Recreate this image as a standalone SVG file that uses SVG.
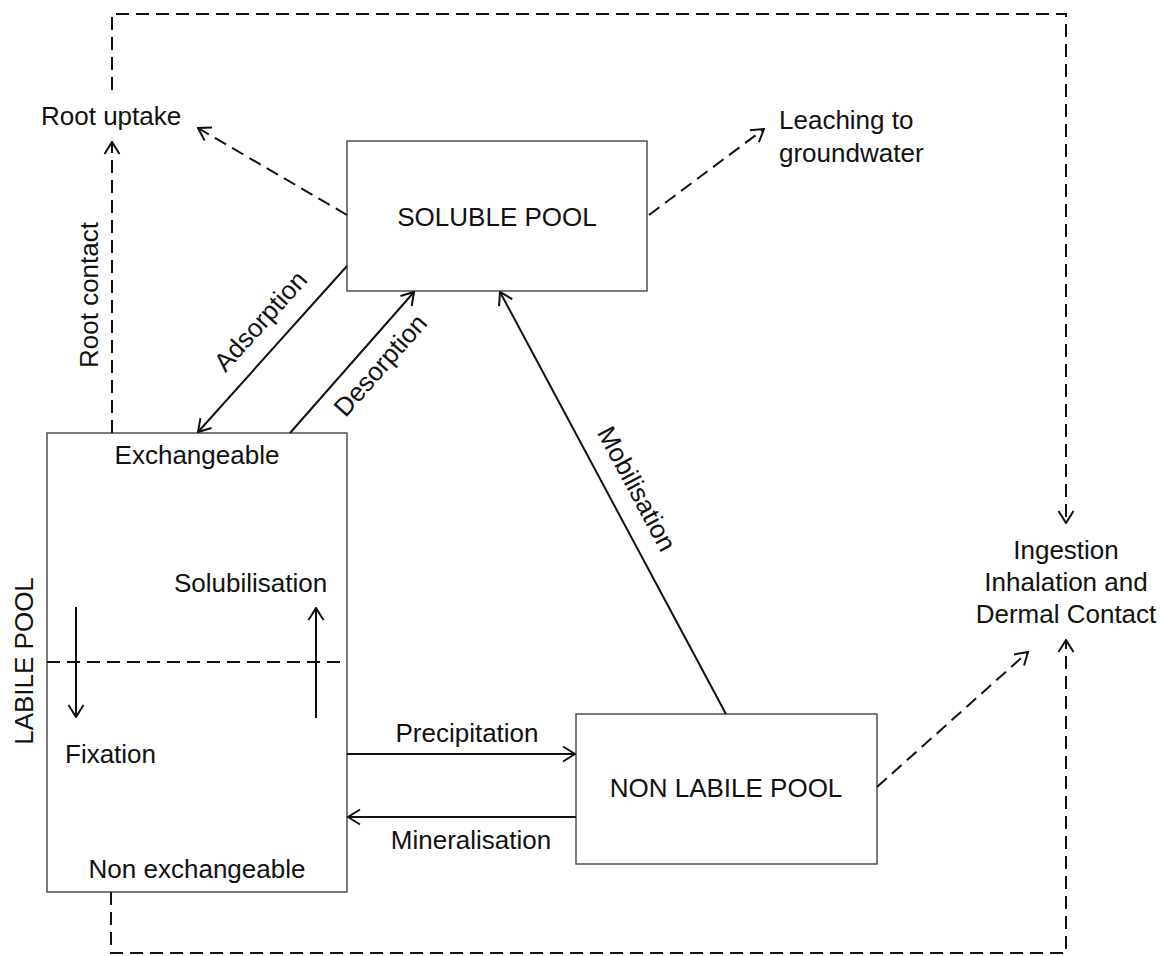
<svg xmlns="http://www.w3.org/2000/svg" width="1161" height="956" viewBox="0 0 1161 956">
<style>
text{font-family:"Liberation Sans",Arial,sans-serif;font-size:26px;fill:#111}
.box{fill:#fff;stroke:#444;stroke-width:1.4}
.ln{fill:none;stroke:#111;stroke-width:2}
.ds{fill:none;stroke:#111;stroke-width:2;stroke-dasharray:13 7}
.m{text-anchor:middle}
</style>
<defs>
<marker id="arr" viewBox="0 0 14 18" refX="13" refY="9" markerWidth="14" markerHeight="18" markerUnits="userSpaceOnUse" orient="auto">
<path d="M1,1.5 L13,9 L1,16.5" fill="none" stroke="#111" stroke-width="2"/>
</marker>
</defs>
<rect width="1161" height="956" fill="#fff"/>
<g id="soluble-pool">
<rect class="box" x="347" y="141" width="300" height="150"/>
<text class="m" x="497" y="226">SOLUBLE POOL</text>
</g>
<g id="labile-pool">
<rect class="box" x="47" y="433" width="300" height="459"/>
<text class="m" x="197" y="464">Exchangeable</text>
<text x="174" y="592">Solubilisation</text>
<text x="65" y="763">Fixation</text>
<text class="m" x="197" y="878">Non exchangeable</text>
<text class="m" transform="translate(33,661) rotate(-90)">LABILE POOL</text>
</g>
<g id="non-labile-pool">
<rect class="box" x="576" y="714" width="301" height="150"/>
<text class="m" x="726" y="797">NON LABILE POOL</text>
</g>
<g id="root-uptake"><text x="41" y="125">Root uptake</text></g>
<g id="leaching">
<text x="779" y="129">Leaching to</text>
<text x="779" y="162">groundwater</text>
</g>
<g id="ingestion">
<text class="m" x="1066" y="559">Ingestion</text>
<text class="m" x="1066" y="591">Inhalation and</text>
<text class="m" x="1066" y="623">Dermal Contact</text>
</g>
<g id="connectors">
<path class="ds" d="M347,215 L198,128" marker-end="url(#arr)"/>
<path class="ds" d="M649,215 L764,129" marker-end="url(#arr)"/>
<path class="ds" d="M112,433 L112,142" marker-end="url(#arr)"/>
<path class="ds" d="M112,90 V14 H1066 V523" marker-end="url(#arr)"/>
<path class="ds" d="M111,892 V953 H1066 V640" marker-end="url(#arr)"/>
<path class="ds" d="M877,787 L1028,652" marker-end="url(#arr)"/>
<path class="ds" d="M47,662 H347"/>
<path class="ln" d="M347,266 L198,432" marker-end="url(#arr)"/>
<path class="ln" d="M290,433 L414,292" marker-end="url(#arr)"/>
<path class="ln" d="M726,714 L500,292" marker-end="url(#arr)"/>
<path class="ln" d="M347,754 L575,754" marker-end="url(#arr)"/>
<path class="ln" d="M576,817 L348,817" marker-end="url(#arr)"/>
<path class="ln" d="M76,607 L76,717" marker-end="url(#arr)"/>
<path class="ln" d="M316,718 L316,608" marker-end="url(#arr)"/>
<text class="m" transform="translate(98,295) rotate(-90)">Root contact</text>
<text class="m" transform="translate(267,327) rotate(-48)">Adsorption</text>
<text class="m" transform="translate(387,371) rotate(-48.7)">Desorption</text>
<text class="m" transform="translate(629,493) rotate(61.8)">Mobilisation</text>
<text class="m" x="467" y="742">Precipitation</text>
<text class="m" x="471" y="849">Mineralisation</text>
</g>
</svg>
